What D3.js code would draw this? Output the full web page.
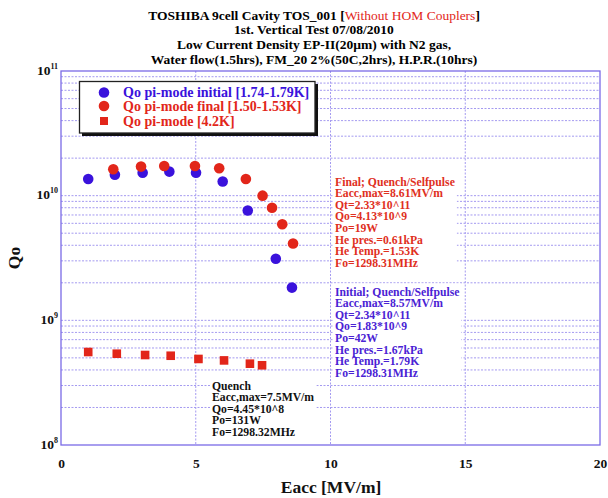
<!DOCTYPE html>
<html>
<head>
<meta charset="utf-8">
<script src="https://cdn.jsdelivr.net/npm/d3@7"></script>
<style>
body { margin: 0; background: #fff; }
svg text { font-family: "Liberation Serif", "Times New Roman", serif; font-weight: bold; }
</style>
</head>
<body>
<div id="chart"></div>
<script>
// pi-mode initial [1.74-1.79K]
var eaccInitial = [1.01, 2.0, 3.03, 4.02, 5.01, 6.0, 6.93, 7.97, 8.57];
var qoInitial   = [1.36e10, 1.47e10, 1.53e10, 1.56e10, 1.53e10, 1.30e10, 7.6e9, 3.12e9, 1.83e9];
// pi-mode final [1.50-1.53K]
var eaccFinal = [1.94, 2.97, 3.83, 4.97, 5.87, 6.86, 7.48, 7.83, 8.21, 8.61];
var qoFinal   = [1.63e10, 1.71e10, 1.73e10, 1.73e10, 1.66e10, 1.36e10, 1.0e10, 8.0e9, 5.9e9, 4.13e9];
// pi-mode 4.2K
var eacc42 = [1.01, 2.07, 3.12, 4.07, 5.1, 6.05, 7.01, 7.46];
var qo42   = [5.57e8, 5.40e8, 5.27e8, 5.20e8, 4.9e8, 4.77e8, 4.49e8, 4.36e8];

var xTicks = [0, 5, 10, 15, 20];
var yDecades = [8, 9, 10, 11];

var legendLabels = ["Qo pi-mode initial [1.74-1.79K]", "Qo pi-mode final [1.50-1.53K]", "Qo pi-mode [4.2K]"];
var finalNotes = ["Final; Quench/Selfpulse", "Eacc,max=8.61MV/m", "Qt=2.33*10^11", "Qo=4.13*10^9",
	"Po=19W", "He pres.=0.61kPa", "He Temp.=1.53K", "Fo=1298.31MHz"];
var initialNotes = ["Initial; Quench/Selfpulse", "Eacc,max=8.57MV/m", "Qt=2.34*10^11", "Qo=1.83*10^9",
	"Po=42W", "He pres.=1.67kPa", "He Temp.=1.79K", "Fo=1298.31MHz"];
var quenchNotes = ["Quench", "Eacc,max=7.5MV/m", "Qo=4.45*10^8", "Po=131W", "Fo=1298.32MHz"];

var blue = "#3a12dc", red = "#e2261a", gridc = "#a49af0", frame = "#7a6ae6";

var W = 608, H = 498;
var margin = {top: 71, right: 8, bottom: 53, left: 61},
	width = W - margin.left - margin.right,
	height = H - margin.top - margin.bottom;

var svg = d3.select("#chart").append("svg")
	.attr("width", W)
	.attr("height", H);

var x = d3.scaleLinear().domain([0, 20]).range([0, width]);
var y = d3.scaleLog().domain([1e8, 1e11]).range([height, 0]);

// title
var title = svg.append("g").attr("text-anchor", "middle").attr("font-size", "13.5px");
var t1 = title.append("text").attr("x", 314).attr("y", 20);
t1.append("tspan").text("TOSHIBA 9cell Cavity TOS_001 [");
t1.append("tspan").attr("fill", red).attr("font-weight", "normal").text("Without HOM Couplers");
t1.append("tspan").text("]");
title.append("text").attr("x", 314).attr("y", 34).text("1st. Vertical Test 07/08/2010");
title.append("text").attr("x", 314).attr("y", 49).text("Low Current Density EP-II(20\u00b5m) with N2 gas,");
title.append("text").attr("x", 314).attr("y", 64).text("Water flow(1.5hrs), FM_20 2%(50C,2hrs), H.P.R.(10hrs)");

var plot = svg.append("g")
	.attr("transform", "translate(" + margin.left + "," + margin.top + ")");

// grid
var minor = [];
for (var e = 8; e < 11; e++) {
	for (var m = 1; m < 10; m++) minor.push(m * Math.pow(10, e));
}
plot.selectAll(".hgrid").data(minor.filter(function(d){ return d > 1e8; }))
	.enter().append("line")
	.attr("x1", 0).attr("x2", width)
	.attr("y1", function(d){ return y(d); })
	.attr("y2", function(d){ return y(d); })
	.attr("stroke", gridc).attr("stroke-width", 1)
	.attr("stroke-dasharray", "2,1.5");
plot.selectAll(".vgrid").data([5, 10, 15])
	.enter().append("line")
	.attr("y1", 0).attr("y2", height)
	.attr("x1", function(d){ return x(d); })
	.attr("x2", function(d){ return x(d); })
	.attr("stroke", gridc).attr("stroke-width", 1)
	.attr("stroke-dasharray", "2,1.5");

plot.append("rect")
	.attr("width", width).attr("height", height)
	.attr("fill", "none").attr("stroke", frame).attr("stroke-width", 1.3);

// axes labels
var xAxis = plot.append("g")
	.attr("transform", "translate(0," + height + ")")
	.call(d3.axisBottom(x).tickValues(xTicks).tickSize(0).tickPadding(13).tickFormat(d3.format("d")));
xAxis.select(".domain").remove();
xAxis.selectAll("text").attr("font-size", "13.5px").attr("fill", "#111")
	.attr("font-family", "Liberation Serif").attr("font-weight", "bold");

var yAxis = plot.append("g")
	.call(d3.axisLeft(y).tickValues(yDecades.map(function(d){ return Math.pow(10, d); }))
		.tickSize(0).tickPadding(4).tickFormat(""));
yAxis.select(".domain").remove();
yAxis.selectAll(".tick").each(function(d) {
	var t = d3.select(this).append("text")
		.attr("x", -3).attr("y", 3)
		.attr("text-anchor", "end").attr("fill", "#111")
		.attr("font-size", "13.5px");
	t.append("tspan").text("10");
	t.append("tspan").attr("dy", -6).attr("font-size", "8px").text(Math.round(Math.log10(d)));
});

svg.append("text")
	.attr("x", 331).attr("y", 493)
	.attr("text-anchor", "middle").attr("font-size", "17.5px").attr("fill", "#111")
	.text("Eacc [MV/m]");
svg.append("text")
	.attr("transform", "translate(20,258) rotate(-90)")
	.attr("text-anchor", "middle").attr("font-size", "17.5px").attr("fill", "#111")
	.text("Qo");

// annotations (white boxes hide the grid behind them)
function notes(lines, x0, y0, col) {
	var g = svg.append("g");
	var bg = g.append("rect").attr("fill", "#fff");
	lines.forEach(function(s, i) {
		g.append("text").attr("x", x0).attr("y", y0 + i * 11.6)
			.attr("font-size", "11.7px").attr("fill", col).text(s);
	});
	var b = g.node().getBBox();
	bg.attr("x", b.x - 2).attr("y", b.y - 2).attr("width", b.width + 4).attr("height", b.height + 4);
}
notes(finalNotes, 335, 185.5, "#e0301e");
notes(initialNotes, 335, 295.5, "#4a22d4");
notes(quenchNotes, 212, 389.5, "#111");

// data
function pts(xs, ys) { return xs.map(function(d, i){ return {x: d, y: ys[i]}; }); }

plot.selectAll(".p42").data(pts(eacc42, qo42))
	.enter().append("rect")
	.attr("x", function(d){ return x(d.x) - 4.3; })
	.attr("y", function(d){ return y(d.y) - 4.3; })
	.attr("width", 8.6).attr("height", 8.6)
	.attr("fill", red);

plot.selectAll(".pi").data(pts(eaccInitial, qoInitial))
	.enter().append("circle")
	.attr("cx", function(d){ return x(d.x); })
	.attr("cy", function(d){ return y(d.y); })
	.attr("r", 5.3).attr("fill", blue);

plot.selectAll(".pf").data(pts(eaccFinal, qoFinal))
	.enter().append("circle")
	.attr("cx", function(d){ return x(d.x); })
	.attr("cy", function(d){ return y(d.y); })
	.attr("r", 5.3).attr("fill", red);

// legend
var lg = svg.append("g");
lg.append("rect").attr("x", 82).attr("y", 84).attr("width", 236).attr("height", 52).attr("fill", "#111");
lg.append("rect").attr("x", 79.5).attr("y", 81.5).attr("width", 235.5).attr("height", 51.5)
	.attr("fill", "#fff").attr("stroke", "#222").attr("stroke-width", 1.3);
var lcol = [blue, red, red];
var ly = [92.5, 106, 121];
legendLabels.forEach(function(s, i) {
	if (i < 2) {
		lg.append("circle").attr("cx", 104).attr("cy", ly[i]).attr("r", 5.3).attr("fill", lcol[i]);
	} else {
		lg.append("rect").attr("x", 100).attr("y", ly[i] - 4).attr("width", 8).attr("height", 8).attr("fill", lcol[i]);
	}
	lg.append("text").attr("x", 123).attr("y", ly[i] + 4.8)
		.attr("font-size", "14px").attr("fill", lcol[i]).text(s);
});
</script>
</body>
</html>
